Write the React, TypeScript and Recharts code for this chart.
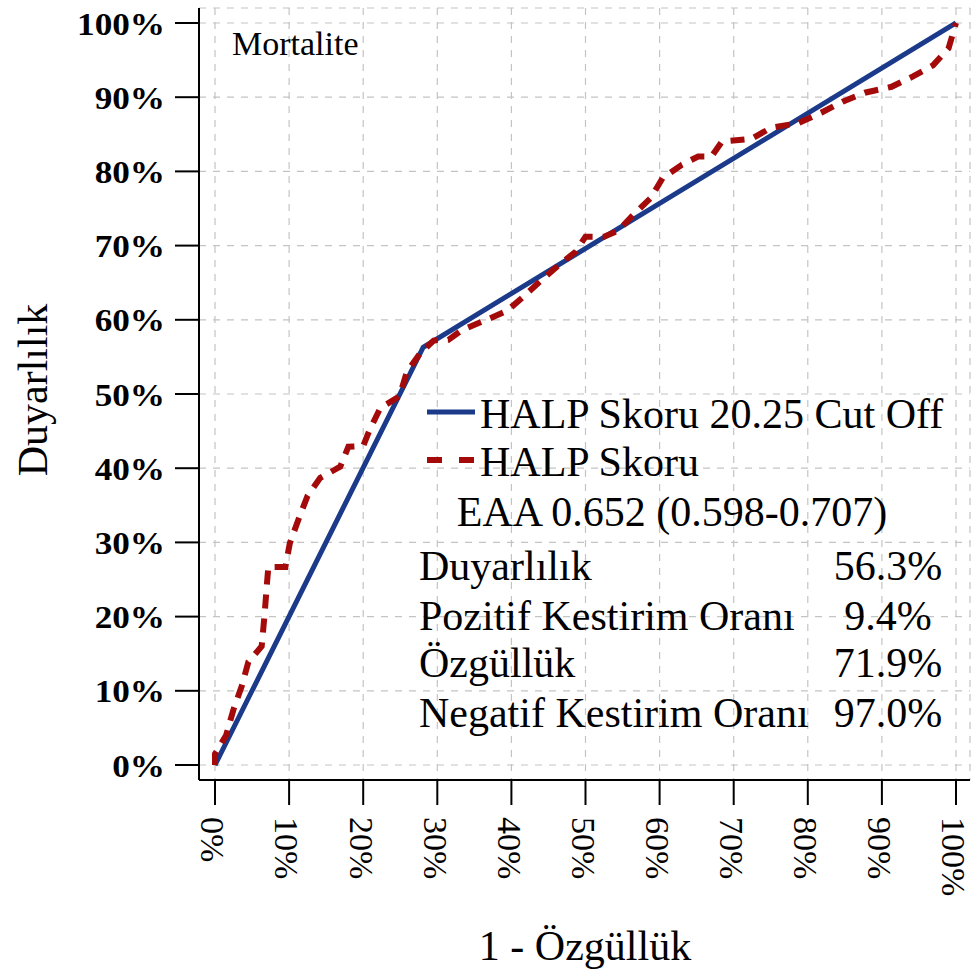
import React from "react";
import { LineChart, Line, XAxis, YAxis, CartesianGrid } from "recharts";

const FONT = '"Liberation Serif", "Times New Roman", serif';
const BLUE = "#1B3A8A";
const RED = "#A50A0A";

// Cut-off ROC (single threshold) : 1 - specificity, sensitivity (%)
const cutoffFpr = [0, 28.1, 100];
const cutoffTpr = [0, 56.3, 100];

// Continuous HALP score ROC curve (%)
const rocFpr = [
  0, 0, 1.5, 2.5, 3.6, 4.5, 6.3, 6.7, 7.0, 7.2, 9.5, 10.1, 11.3, 12.5, 14.2,
  16.9, 18.0, 20.0, 20.8, 22.3, 24.9, 25.9, 27.7, 29.5, 31.5, 33.3, 36.4, 39.4,
  41.6, 44.0, 46.3, 48.7, 50.0, 52.5, 54.4, 56.4, 58.8, 60.4, 63.0, 65.2, 67.0,
  68.4, 72.4, 75.1, 78.7, 81.8, 84.7, 87.7, 91.3, 94.2, 96.9, 99.0, 100,
];
const rocTpr = [
  0, 1.5, 4.0, 7.5, 10.6, 13.9, 16.0, 20.4, 24.3, 26.7, 26.7, 29.9, 33.2, 36.3,
  38.7, 40.2, 42.9, 43.0, 45.0, 48.1, 49.7, 53.0, 55.5, 57.2, 57.3, 58.6, 59.9,
  61.2, 63.1, 65.3, 67.3, 69.2, 71.2, 71.2, 72.0, 74.1, 76.4, 79.1, 80.9, 82.0,
  82.0, 84.0, 84.4, 85.9, 86.5, 87.9, 89.4, 90.6, 91.4, 92.8, 94.3, 96.6, 100,
];

const tickValues = [0, 10, 20, 30, 40, 50, 60, 70, 80, 90, 100];

const legendItems = ["HALP Skoru 20.25 Cut Off", "HALP Skoru"];
const aucText = "EAA 0.652 (0.598-0.707)";
const statLabels = [
  "Duyarlılık",
  "Pozitif Kestirim Oranı",
  "Özgüllük",
  "Negatif Kestirim Oranı",
];
const statValues = ["56.3%", "9.4%", "71.9%", "97.0%"];
const panelTitle = "Mortalite";
const xTitle = "1 - Özgüllük";
const yTitle = "Duyarlılık";

const cutoffData = cutoffFpr.map((x, i) => ({ x, y: cutoffTpr[i] }));
const rocData = rocFpr.map((x, i) => ({ x, y: rocTpr[i] }));

const YTick = (props: any) => {
  const { x, y, payload } = props;
  return (
    <text
      transform={`translate(${x},${y}) scale(1.1,1)`}
      x={0}
      y={0}
      dy="0.36em"
      textAnchor="end"
      fontFamily={FONT}
      fontSize={32}
      fontWeight="bold"
      fill="#000"
    >
      {`${payload.value}%`}
    </text>
  );
};

const XTick = (props: any) => {
  const { x, y, payload } = props;
  return (
    <text
      transform={`translate(${x},${y}) rotate(90)`}
      x={0}
      y={0}
      dy="0.4em"
      textAnchor="start"
      fontFamily={FONT}
      fontSize={34}
      fill="#000"
    >
      {`${payload.value}%`}
    </text>
  );
};

const statBaselines = [580, 630, 677, 727];

export default function App() {
  return (
    <div
      style={{
        position: "absolute",
        left: 0,
        top: 0,
        width: 971,
        height: 976,
        background: "#fff",
      }}
    >
      <LineChart
        width={971}
        height={976}
        margin={{ top: 8, right: 1, bottom: 0, left: 0 }}
      >
        <CartesianGrid
          stroke="#c4c4c4"
          strokeDasharray="7 7"
          strokeWidth={1.2}
        />
        <XAxis
          dataKey="x"
          type="number"
          domain={[-2.16, 101.89]}
          ticks={tickValues}
          allowDataOverflow
          height={196}
          tickSize={25}
          tickMargin={12}
          tick={<XTick />}
          axisLine={{ stroke: "#000", strokeWidth: 2 }}
          tickLine={{ stroke: "#000", strokeWidth: 2 }}
        />
        <XAxis
          xAxisId="top"
          orientation="top"
          type="number"
          domain={[-2.16, 101.89]}
          height={0}
          tick={false}
          tickLine={false}
          axisLine={{ stroke: "#666", strokeWidth: 2 }}
        />
        <YAxis
          dataKey="y"
          type="number"
          domain={[-2.02, 102.02]}
          ticks={tickValues}
          allowDataOverflow
          width={199}
          tickSize={24}
          tickMargin={10}
          tick={<YTick />}
          axisLine={{ stroke: "#000", strokeWidth: 2 }}
          tickLine={{ stroke: "#000", strokeWidth: 2 }}
        />
        <YAxis
          yAxisId="right"
          orientation="right"
          type="number"
          domain={[-2.02, 102.02]}
          width={0}
          tick={false}
          tickLine={false}
          axisLine={{ stroke: "#888", strokeWidth: 1.5 }}
        />
        <Line
          data={cutoffData}
          dataKey="y"
          type="linear"
          stroke={BLUE}
          strokeWidth={5}
          dot={false}
          isAnimationActive={false}
        />
        <Line
          data={rocData}
          dataKey="y"
          type="linear"
          stroke={RED}
          strokeWidth={6}
          strokeDasharray="14 10"
          dot={false}
          isAnimationActive={false}
        />
      </LineChart>
      <svg
        width={971}
        height={976}
        style={{ position: "absolute", left: 0, top: 0, pointerEvents: "none" }}
      >
        <text x={232} y={55} fontFamily={FONT} fontSize={34} fill="#000">
          {panelTitle}
        </text>
        <line x1={427} y1={412} x2={475} y2={412} stroke={BLUE} strokeWidth={5} />
        <text x={480} y={428} fontFamily={FONT} fontSize={42} fill="#000">
          {legendItems[0]}
        </text>
        <line
          x1={427}
          y1={460}
          x2={475}
          y2={460}
          stroke={RED}
          strokeWidth={6}
          strokeDasharray="15 17"
        />
        <text x={480} y={476} fontFamily={FONT} fontSize={42} fill="#000">
          {legendItems[1]}
        </text>
        <text
          x={672}
          y={526}
          textAnchor="middle"
          fontFamily={FONT}
          fontSize={42}
          fill="#000"
        >
          {aucText}
        </text>
        {statLabels.map((s, i) => (
          <text
            key={s}
            x={419}
            y={statBaselines[i]}
            fontFamily={FONT}
            fontSize={42}
            fill="#000"
          >
            {s}
          </text>
        ))}
        {statValues.map((s, i) => (
          <text
            key={s}
            x={888}
            y={statBaselines[i]}
            textAnchor="middle"
            fontFamily={FONT}
            fontSize={42}
            fill="#000"
          >
            {s}
          </text>
        ))}
        <text
          x={585}
          y={960}
          textAnchor="middle"
          fontFamily={FONT}
          fontSize={42}
          fill="#000"
        >
          {xTitle}
        </text>
        <text
          transform="translate(47,390) rotate(-90)"
          x={0}
          y={0}
          textAnchor="middle"
          fontFamily={FONT}
          fontSize={42}
          fill="#000"
        >
          {yTitle}
        </text>
      </svg>
    </div>
  );
}
